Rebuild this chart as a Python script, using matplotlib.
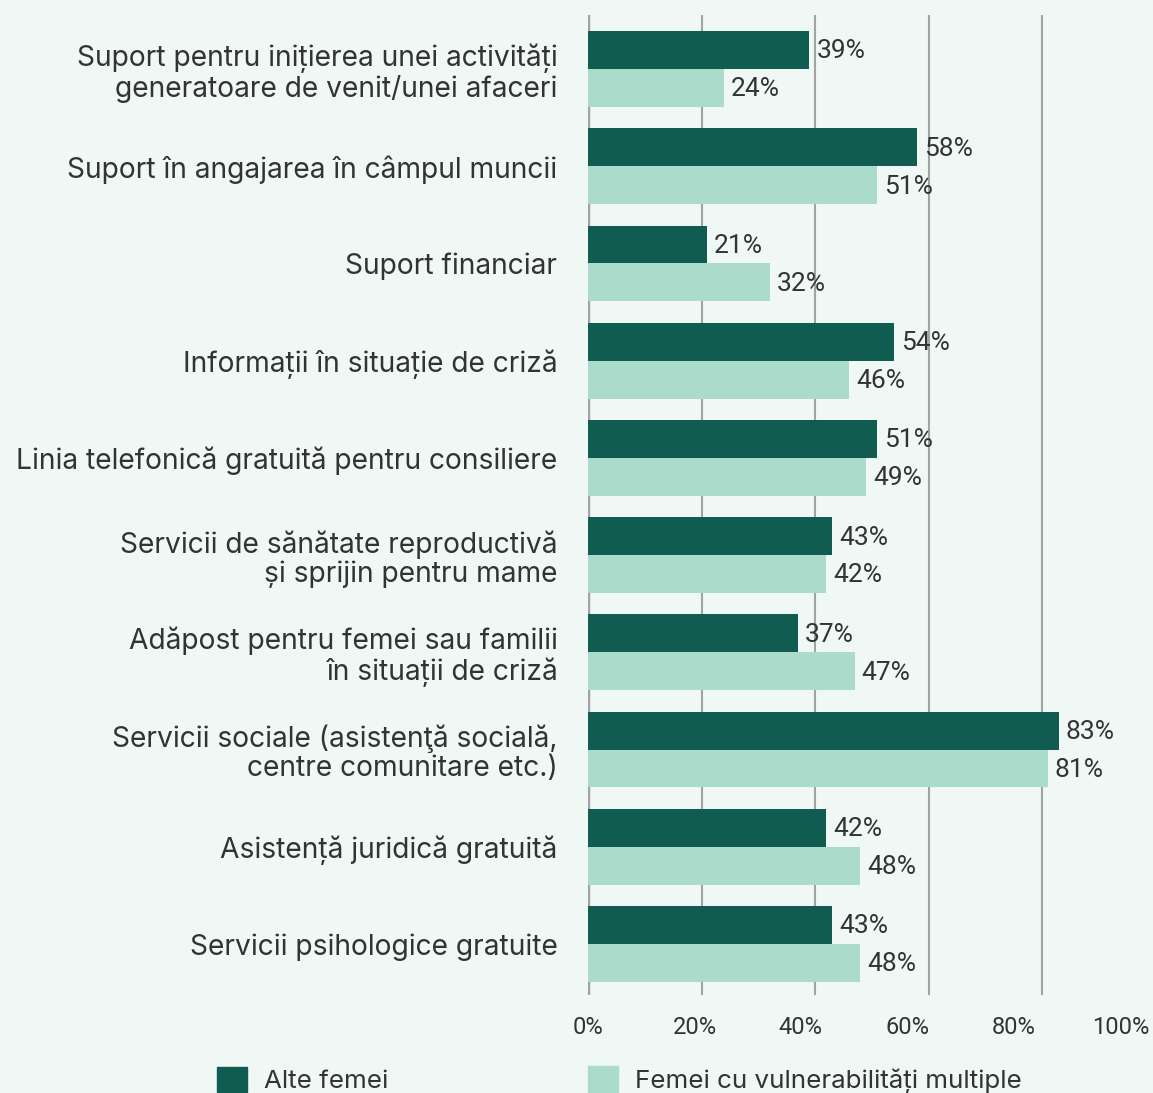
import numpy as np
import matplotlib.pyplot as plt
import matplotlib.transforms as mtransforms
from matplotlib.patches import Patch

# Servicii de suport solicitate, pe grupuri de femei (%)
categorii = [
    "Suport pentru inițierea unei activități\ngeneratoare de venit/unei afaceri",
    "Suport în angajarea în câmpul muncii",
    "Suport financiar",
    "Informații în situație de criză",
    "Linia telefonică gratuită pentru consiliere",
    "Servicii de sănătate reproductivă\nși sprijin pentru mame",
    "Adăpost pentru femei sau familii\nîn situații de criză",
    "Servicii sociale (asistenţă socială,\ncentre comunitare etc.)",
    "Asistență juridică gratuită",
    "Servicii psihologice gratuite",
]
alte_femei = [39, 58, 21, 54, 51, 43, 37, 83, 42, 43]
femei_vulnerabile = [24, 51, 32, 46, 49, 42, 47, 81, 48, 48]
serii = ["Alte femei", "Femei cu vulnerabilități multiple"]
ticks_x = [0, 20, 40, 60, 80, 100]

fundal = "#eff8f4"
verde_inchis = "#115c51"
verde_deschis = "#aadbcb"
text_col = "#333333"

fig = plt.figure(figsize=(11.53, 10.93), dpi=100, facecolor=fundal)
ax = fig.add_axes([588 / 1153, 1 - 995 / 1093, 567.5 / 1153, 980 / 1093])
ax.set_facecolor(fundal)

y = np.arange(len(categorii))
h = 0.39
b1 = ax.barh(y - h / 2, alte_femei, height=h, color=verde_inchis, zorder=2)
b2 = ax.barh(y + h / 2, femei_vulnerabile, height=h, color=verde_deschis, zorder=2)

for bars, vals in [(b1, alte_femei), (b2, femei_vulnerabile)]:
    for bar, v in zip(bars, vals):
        ax.annotate(f"{v}%", (v, bar.get_y() + bar.get_height() / 2),
                    xytext=(5, -1), textcoords="offset points",
                    va="center", ha="left", fontsize=19, family="Roboto",
                    color=text_col, zorder=3)

ax.set_xlim(0, 100)
ax.set_ylim(len(categorii) - 1 + 0.525, -0.556)

# liniile de grila pe valorile reale, etichetele usor strânse spre stânga
ax.set_xticks(ticks_x, minor=True)
ax.set_xticks([t * 0.938 for t in ticks_x])
ax.set_xticklabels([f"{t}%" for t in ticks_x], family="Roboto", fontsize=17,
                   color=text_col)
ax.set_yticks(y)
ax.set_yticklabels(categorii, family="Inter", fontsize=20.3, color=text_col,
                   linespacing=1.1)
# categoriile putin mai sus fata de centrul grupului
ridicare = mtransforms.ScaledTranslation(0, 3 / 100, fig.dpi_scale_trans)
for lbl in ax.get_yticklabels():
    lbl.set_transform(lbl.get_transform() + ridicare)
ax.tick_params(axis="both", which="both", length=0)
ax.tick_params(axis="x", pad=15)
ax.tick_params(axis="y", pad=22)
ax.xaxis.grid(True, which="minor", color="#a3a3a3", linewidth=1.5, zorder=0)
ax.xaxis.grid(False, which="major")
ax.set_axisbelow(True)
for s in ax.spines.values():
    s.set_visible(False)
ax.axvline(0, color="#a3a3a3", linewidth=2.5, zorder=1)

# legenda, cate o intrare pentru fiecare serie
for nume, culoare, x0 in [(serii[0], verde_inchis, 217), (serii[1], verde_deschis, 588)]:
    fig.legend(handles=[Patch(color=culoare, label=nume)],
               loc="center left", bbox_to_anchor=(x0 / 1153, 1 - 1080 / 1093),
               frameon=False, borderpad=0, borderaxespad=0,
               handlelength=1.15, handleheight=1.15, handletextpad=0.65,
               prop={"family": "Inter", "size": 18.7}, labelcolor=text_col)

fig.savefig("out.png", dpi=100, facecolor=fundal)
